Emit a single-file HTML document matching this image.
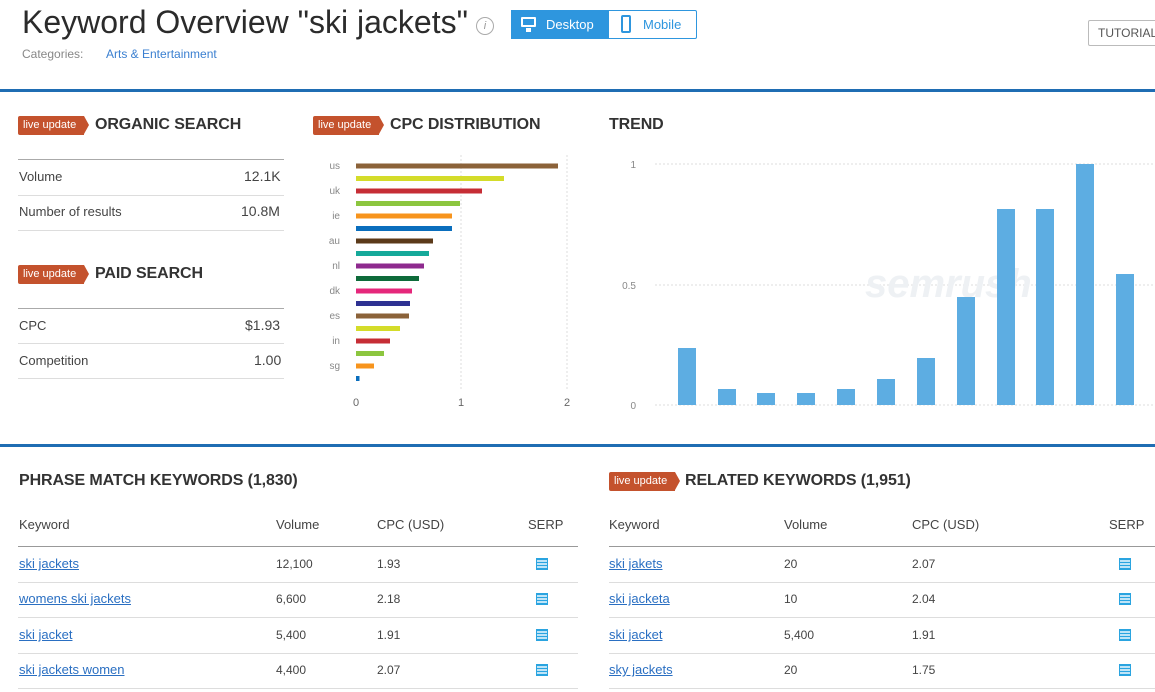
<!DOCTYPE html>
<html><head><meta charset="utf-8"><style>
*{margin:0;padding:0;box-sizing:border-box}
body{width:1155px;height:692px;background:#fff;position:relative;overflow:hidden;font-family:"Liberation Sans",sans-serif;color:#333}
.a{position:absolute;white-space:nowrap}
.badge{position:absolute;height:19px;background:#c4522d;color:#fff;font-size:11px;line-height:19px;padding-left:5px;border-radius:2px 0 0 2px}
.badge:after{content:"";position:absolute;right:-5px;top:0;border-left:5px solid #c4522d;border-top:9.5px solid transparent;border-bottom:9.5px solid transparent}
.h{position:absolute;font-size:16px;font-weight:bold;color:#333;white-space:nowrap;letter-spacing:-0.1px}
.ln{position:absolute;height:1px;background:#ddd}
.t{position:absolute;font-size:13px;color:#444;white-space:nowrap}
.lk{position:absolute;font-size:13px;color:#2a6fc2;text-decoration:underline;white-space:nowrap}
.ic{position:absolute;width:12px;height:12px;border:1px solid #2aa4e0;background:repeating-linear-gradient(#2aa4e0 0 1px,#bfe4f7 1px 3px)}
</style></head><body>
<div class="a" style="left:22px;top:4px;font-size:32px;color:#2b2b2b;letter-spacing:0">Keyword Overview "ski jackets"</div>
<div class="a" style="left:476px;top:17px;width:18px;height:18px;border:1px solid #aaa;border-radius:50%;font-size:11px;color:#999;text-align:center;line-height:16px;font-style:italic">i</div>
<div class="a" style="left:511px;top:10px;width:186px;height:29px;border:1px solid #2e96de;border-radius:2px"></div>
<div class="a" style="left:511px;top:10px;width:98px;height:29px;background:#2e96de;color:#fff;font-size:13px;line-height:29px;padding-left:35px">Desktop</div>
<div class="a" style="left:521px;top:17px;width:15px;height:10px;border:2px solid #fff;border-radius:1px"></div>
<div class="a" style="left:526px;top:28px;width:5px;height:4px;background:#fff"></div>
<div class="a" style="left:643px;top:10px;font-size:13px;line-height:29px;color:#2e96de">Mobile</div>
<div class="a" style="left:621px;top:15px;width:10px;height:18px;border:2px solid #2e96de;border-radius:2px"></div>
<div class="a" style="left:1088px;top:20px;width:80px;height:26px;border:1px solid #bbb;border-radius:2px;font-size:12px;color:#555;line-height:24px;padding-left:9px">TUTORIAL</div>
<div class="a" style="left:22px;top:47px;font-size:12px;color:#888">Categories:</div>
<div class="a" style="left:106px;top:47px;font-size:12px;color:#3a7fd0">Arts &amp; Entertainment</div>
<div class="a" style="left:0;top:89px;width:1155px;height:3px;background:#1f6db3"></div>
<div class="a" style="left:0;top:444px;width:1155px;height:3px;background:#1f6db3"></div>

<div class="badge" style="left:18px;top:116px;width:66px">live update</div>
<div class="h" style="left:95px;top:116px">ORGANIC SEARCH</div>
<div class="ln" style="left:18px;top:159px;width:266px;background:#aaa"></div>
<div class="t" style="left:19px;top:169px">Volume</div><div class="t" style="left:244px;top:168px;font-size:14px">12.1K</div>
<div class="ln" style="left:18px;top:195px;width:266px"></div>
<div class="t" style="left:19px;top:204px">Number of results</div><div class="t" style="left:241px;top:203px;font-size:14px">10.8M</div>
<div class="ln" style="left:18px;top:230px;width:266px"></div>
<div class="badge" style="left:18px;top:265px;width:66px">live update</div>
<div class="h" style="left:95px;top:265px">PAID SEARCH</div>
<div class="ln" style="left:18px;top:308px;width:266px;background:#aaa"></div>
<div class="t" style="left:19px;top:318px">CPC</div><div class="t" style="left:245px;top:317px;font-size:14px">$1.93</div>
<div class="ln" style="left:18px;top:343px;width:266px"></div>
<div class="t" style="left:19px;top:353px">Competition</div><div class="t" style="left:254px;top:352px;font-size:14px">1.00</div>
<div class="ln" style="left:18px;top:378px;width:266px"></div>

<div class="badge" style="left:313px;top:116px;width:66px">live update</div>
<div class="h" style="left:390px;top:116px">CPC DISTRIBUTION</div>
<div class="h" style="left:609px;top:116px">TREND</div>

<svg class="a" style="left:0;top:0" width="1155" height="692" font-family="Liberation Sans, sans-serif">
<g stroke="#ddd" stroke-dasharray="2,2"><line x1="461" y1="155" x2="461" y2="390"/><line x1="567" y1="155" x2="567" y2="390"/>
<line x1="655" y1="164" x2="1155" y2="164"/><line x1="655" y1="285" x2="1155" y2="285"/><line x1="655" y1="405" x2="1155" y2="405"/></g>
<g font-size="10" fill="#888" text-anchor="end">
<text x="340" y="169">us</text><text x="340" y="194">uk</text><text x="340" y="219">ie</text><text x="340" y="244">au</text><text x="340" y="269">nl</text><text x="340" y="294">dk</text><text x="340" y="319">es</text><text x="340" y="344">in</text><text x="340" y="369">sg</text>
<text x="636" y="168">1</text><text x="636" y="289">0.5</text><text x="636" y="409">0</text></g>
<g font-size="11" fill="#666" text-anchor="middle"><text x="356" y="406">0</text><text x="461" y="406">1</text><text x="567" y="406">2</text></g>
<g>
<rect x="356" y="163.5" width="202" height="5" fill="#8b6239"/>
<rect x="356" y="176" width="148" height="5" fill="#d4dc2a"/>
<rect x="356" y="188.5" width="126" height="5" fill="#c62d35"/>
<rect x="356" y="201" width="104" height="5" fill="#8cc63f"/>
<rect x="356" y="213.5" width="96" height="5" fill="#f7941d"/>
<rect x="356" y="226" width="96" height="5" fill="#0a6ebd"/>
<rect x="356" y="238.5" width="77" height="5" fill="#5b3a1a"/>
<rect x="356" y="251" width="73" height="5" fill="#15a99a"/>
<rect x="356" y="263.5" width="68" height="5" fill="#8e2a8e"/>
<rect x="356" y="276" width="63" height="5" fill="#0e6b3a"/>
<rect x="356" y="288.5" width="56" height="5" fill="#e5277b"/>
<rect x="356" y="301" width="54" height="5" fill="#2e3192"/>
<rect x="356" y="313.5" width="53" height="5" fill="#8b6239"/>
<rect x="356" y="326" width="44" height="5" fill="#d4dc2a"/>
<rect x="356" y="338.5" width="34" height="5" fill="#c62d35"/>
<rect x="356" y="351" width="28" height="5" fill="#8cc63f"/>
<rect x="356" y="363.5" width="18" height="5" fill="#f7941d"/>
<rect x="356" y="376" width="3.5" height="5" fill="#0a6ebd"/>
</g>
<text x="865" y="297" font-size="40" font-style="italic" font-weight="bold" fill="#eef1f4">semrush</text>
<g fill="#5dade2">
<rect x="678" y="348" width="18" height="57"/><rect x="718" y="389" width="18" height="16"/><rect x="757" y="393" width="18" height="12"/><rect x="797" y="393" width="18" height="12"/><rect x="837" y="389" width="18" height="16"/><rect x="877" y="379" width="18" height="26"/><rect x="917" y="358" width="18" height="47"/><rect x="957" y="297" width="18" height="108"/><rect x="997" y="209" width="18" height="196"/><rect x="1036" y="209" width="18" height="196"/><rect x="1076" y="164" width="18" height="241"/><rect x="1116" y="274" width="18" height="131"/>
</g>
</svg>

<div class="h" style="left:19px;top:472px">PHRASE MATCH KEYWORDS (1,830)</div>
<div class="t" style="left:19px;top:517px">Keyword</div><div class="t" style="left:276px;top:517px">Volume</div><div class="t" style="left:377px;top:517px">CPC (USD)</div><div class="t" style="left:528px;top:517px">SERP</div>
<div class="ln" style="left:18px;top:546px;width:560px;background:#999"></div>
<div class="lk" style="left:19px;top:556px">ski jackets</div><div class="t" style="left:276px;top:557px;font-size:12px">12,100</div><div class="t" style="left:377px;top:557px;font-size:12px">1.93</div><div class="ic" style="left:536px;top:558px"></div>
<div class="ln" style="left:18px;top:582px;width:560px"></div>
<div class="lk" style="left:19px;top:591px">womens ski jackets</div><div class="t" style="left:276px;top:592px;font-size:12px">6,600</div><div class="t" style="left:377px;top:592px;font-size:12px">2.18</div><div class="ic" style="left:536px;top:593px"></div>
<div class="ln" style="left:18px;top:617px;width:560px"></div>
<div class="lk" style="left:19px;top:627px">ski jacket</div><div class="t" style="left:276px;top:628px;font-size:12px">5,400</div><div class="t" style="left:377px;top:628px;font-size:12px">1.91</div><div class="ic" style="left:536px;top:629px"></div>
<div class="ln" style="left:18px;top:653px;width:560px"></div>
<div class="lk" style="left:19px;top:662px">ski jackets women</div><div class="t" style="left:276px;top:663px;font-size:12px">4,400</div><div class="t" style="left:377px;top:663px;font-size:12px">2.07</div><div class="ic" style="left:536px;top:664px"></div>
<div class="ln" style="left:18px;top:688px;width:560px"></div>

<div class="badge" style="left:609px;top:472px;width:66px">live update</div>
<div class="h" style="left:685px;top:472px">RELATED KEYWORDS (1,951)</div>
<div class="t" style="left:609px;top:517px">Keyword</div><div class="t" style="left:784px;top:517px">Volume</div><div class="t" style="left:912px;top:517px">CPC (USD)</div><div class="t" style="left:1109px;top:517px">SERP</div>
<div class="ln" style="left:609px;top:546px;width:546px;background:#999"></div>
<div class="lk" style="left:609px;top:556px">ski jakets</div><div class="t" style="left:784px;top:557px;font-size:12px">20</div><div class="t" style="left:912px;top:557px;font-size:12px">2.07</div><div class="ic" style="left:1119px;top:558px"></div>
<div class="ln" style="left:609px;top:582px;width:546px"></div>
<div class="lk" style="left:609px;top:591px">ski jacketa</div><div class="t" style="left:784px;top:592px;font-size:12px">10</div><div class="t" style="left:912px;top:592px;font-size:12px">2.04</div><div class="ic" style="left:1119px;top:593px"></div>
<div class="ln" style="left:609px;top:617px;width:546px"></div>
<div class="lk" style="left:609px;top:627px">ski jacket</div><div class="t" style="left:784px;top:628px;font-size:12px">5,400</div><div class="t" style="left:912px;top:628px;font-size:12px">1.91</div><div class="ic" style="left:1119px;top:629px"></div>
<div class="ln" style="left:609px;top:653px;width:546px"></div>
<div class="lk" style="left:609px;top:662px">sky jackets</div><div class="t" style="left:784px;top:663px;font-size:12px">20</div><div class="t" style="left:912px;top:663px;font-size:12px">1.75</div><div class="ic" style="left:1119px;top:664px"></div>
<div class="ln" style="left:609px;top:688px;width:546px"></div>
</body></html>
